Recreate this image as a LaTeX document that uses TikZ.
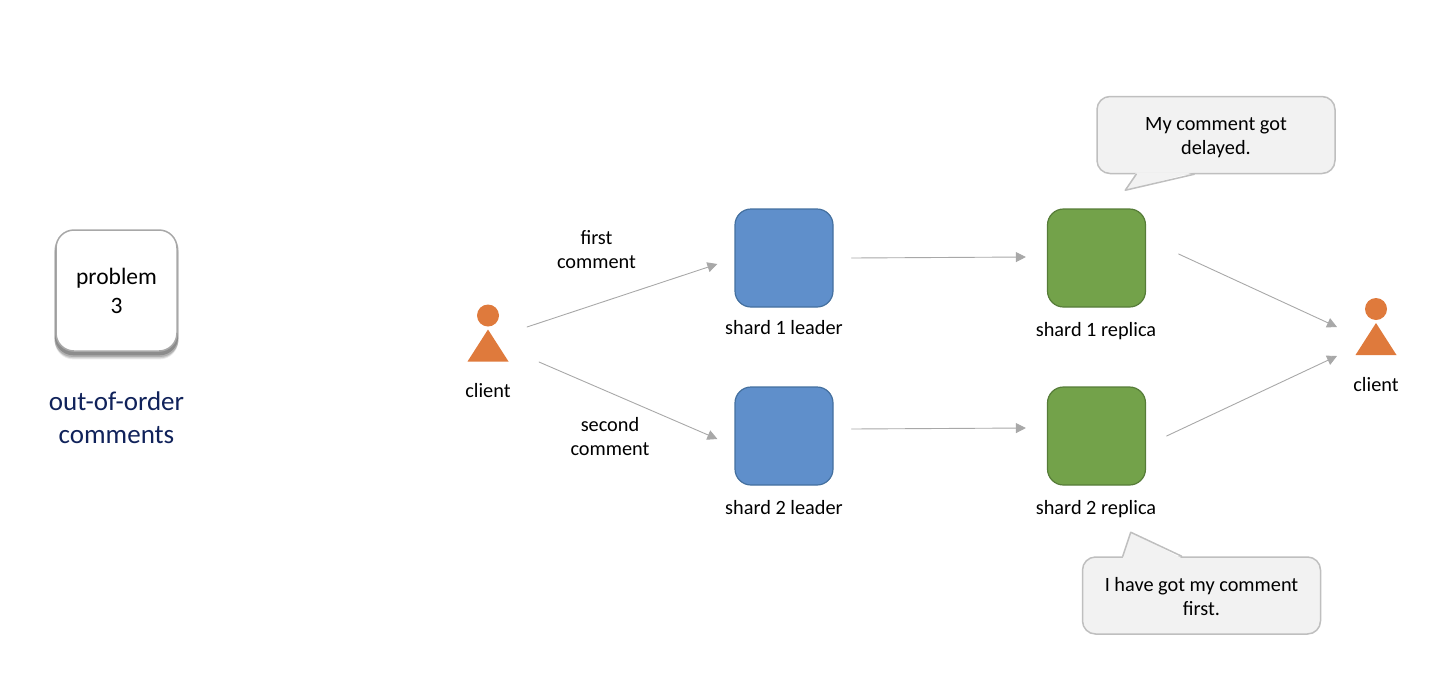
\documentclass[tikz,border=0pt]{standalone}
\usepackage{fontspec}
\setmainfont{Carlito}
\usetikzlibrary{arrows.meta,shadows}
\definecolor{shardblue}{HTML}{5F8FCB}
\definecolor{shardblueline}{HTML}{44709F}
\definecolor{shardgreen}{HTML}{73A24A}
\definecolor{shardgreenline}{HTML}{567C38}
\definecolor{clientorange}{HTML}{DF7A3C}
\definecolor{flowgray}{HTML}{A8A8A8}
\definecolor{bubblefill}{HTML}{F2F2F2}
\definecolor{bubbleline}{HTML}{BFBFBF}
\definecolor{titlenavy}{HTML}{10225A}
\tikzset{
  label text/.style={align=center,inner sep=0pt,font=\fontsize{20.3}{24}\selectfont,text=black},
  leader/.style={draw=shardblueline,fill=shardblue,line width=1.2pt,rounded corners=16pt,minimum width=98pt,minimum height=98pt,inner sep=0pt},
  replica/.style={draw=shardgreenline,fill=shardgreen,line width=1.2pt,rounded corners=16pt,minimum width=98pt,minimum height=98pt,inner sep=0pt},
  head/.style={circle,fill=clientorange,minimum size=22pt,inner sep=0pt},
  flow/.style={draw=flowgray,line width=0.9pt,-{Triangle[length=10pt,width=10pt,fill=flowgray]}},
  bubble/.style={draw=bubbleline,fill=bubblefill,line width=1.5pt,rounded corners=13pt,minimum width=238pt,minimum height=77pt,inner sep=0pt},
  problem/.style={draw=flowgray,fill=white,line width=1.5pt,rounded corners=18pt,minimum width=121pt,minimum height=121pt,align=center,inner sep=0pt,font=\fontsize{23.5}{29}\selectfont,text=black,
    drop shadow={shadow xshift=0pt,shadow yshift=-7pt,shadow scale=1.02,fill=black,opacity=0.08},
    drop shadow={shadow xshift=0pt,shadow yshift=-6pt,shadow scale=1.02,fill=black,opacity=0.12},
    drop shadow={shadow xshift=0pt,shadow yshift=-4pt,shadow scale=1.03,fill=black,opacity=0.15},
    drop shadow={shadow xshift=0pt,shadow yshift=-3pt,shadow scale=1.02,fill=black,opacity=0.2}}
}
\begin{document}
\begin{tikzpicture}[x=1pt,y=-1pt,line cap=round,line join=round]
\useasboundingbox (0,0) rectangle (1441,686);
% left panel
\node[problem] (prob) at (116.5,290.5) {problem\\3};
\node[align=center,inner sep=0pt,font=\fontsize{27}{33}\selectfont,text=titlenavy] (title) at (116.5,418) {out-of-order\\comments};
% shards
\node[leader] (leader1) at (784,258) {};
\node[leader] (leader2) at (784,436) {};
\node[replica] (replica1) at (1096.5,258) {};
\node[replica] (replica2) at (1096.5,436) {};
\node[label text] (leader1txt) at (784,328) {shard 1 leader};
\node[label text] (leader2txt) at (784,507.5) {shard 2 leader};
\node[label text] (replica1txt) at (1096,331.5) {shard 1 replica};
\node[label text] (replica2txt) at (1096,509) {shard 2 replica};
% clients
\node[head] (head1) at (488,315.5) {};
\node[head] (head2) at (1376,309) {};
\fill[clientorange] ([yshift=-14pt]head1.center) -- ([shift={(20.5,46)}]head1.center) -- ([shift={(-20.5,46)}]head1.center) -- cycle;
\fill[clientorange] ([yshift=-14pt]head2.center) -- ([shift={(20.5,46)}]head2.center) -- ([shift={(-20.5,46)}]head2.center) -- cycle;
\node[label text] (client1txt) at (488,391) {client};
\node[label text] (client2txt) at (1376,385) {client};
% connectors
\draw[flow] ([shift={(39,11.5)}]head1.center) -- ([shift={(-17,6)}]leader1.west);
\draw[flow] ([shift={(51,46.5)}]head1.center) -- ([shift={(-17,3)}]leader2.west);
\draw[flow] ([xshift=18pt]leader1.east) -- ([shift={(-21,-1)}]replica1.west);
\draw[flow] ([shift={(18,-7)}]leader2.east) -- ([shift={(-21,-8)}]replica2.west);
\draw[flow] ([shift={(32.5,-4)}]replica1.east) -- ([shift={(-39,18)}]head2.center);
\draw[flow] ([xshift=20.5pt]replica2.east) -- ([shift={(-39,47)}]head2.center);
\node[label text] (first) at (596.5,249.5) {first\\comment};
\node[label text] (second) at (610,436.5) {second\\comment};
% speech bubbles
\node[bubble] (bubble1) at (1216,135) {};
\node[bubble] (bubble2) at (1201.5,595.5) {};
\fill[bubblefill] ([shift={(40,-2)}]bubble1.south west) -- ([shift={(29,16)}]bubble1.south west) -- ([shift={(98,-2)}]bubble1.south west) -- cycle;
\draw[bubbleline,line width=1.5pt] ([xshift=40pt]bubble1.south west) -- ([shift={(29,16)}]bubble1.south west) -- ([xshift=98pt]bubble1.south west);
\fill[bubblefill] ([shift={(41,2)}]bubble2.north west) -- ([shift={(49,-24)}]bubble2.north west) -- ([shift={(100,2)}]bubble2.north west) -- cycle;
\draw[bubbleline,line width=1.5pt] ([xshift=41pt]bubble2.north west) -- ([shift={(49,-24)}]bubble2.north west) -- ([xshift=100pt]bubble2.north west);
\node[label text] (bubble1txt) at (1216,137.5) {My comment got\\delayed.};
\node[label text] (bubble2txt) at (1201.5,596.5) {I have got my comment\\first.};
\end{tikzpicture}
\end{document}
